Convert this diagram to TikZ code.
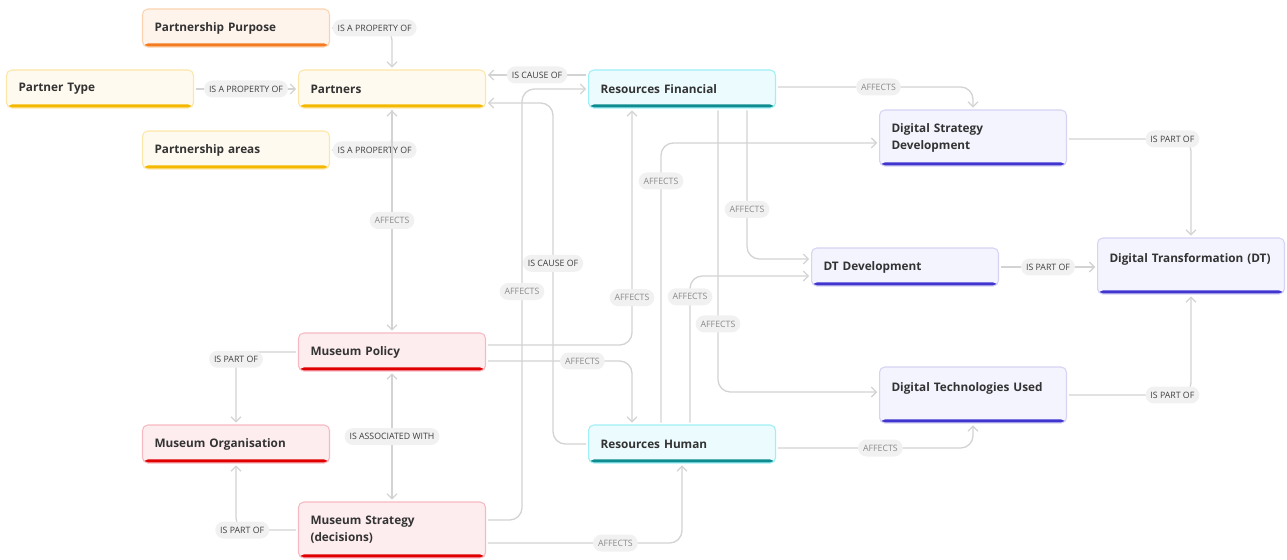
\documentclass[tikz,border=0pt]{standalone}
\usepackage{fontspec}
\setmainfont{Open Sans}
\usepackage{tikz}
\usetikzlibrary{arrows.meta,calc}

\definecolor{coralfill}{HTML}{FFF4EC}
\definecolor{coralline}{HTML}{FBD3B0}
\definecolor{coralbar}{HTML}{F47B20}
\definecolor{amberfill}{HTML}{FFFAEF}
\definecolor{amberline}{HTML}{FCE6A8}
\definecolor{amberbar}{HTML}{F5B800}
\definecolor{aquafill}{HTML}{ECFCFE}
\definecolor{aqualine}{HTML}{9EEFF6}
\definecolor{aquabar}{HTML}{0F8C8F}
\definecolor{lavfill}{HTML}{F3F4FD}
\definecolor{lavline}{HTML}{D6D3F3}
\definecolor{lavbar}{HTML}{4035CF}
\definecolor{rosefill}{HTML}{FDEDEF}
\definecolor{roseline}{HTML}{F6B9C2}
\definecolor{rosebar}{HTML}{E00000}
\definecolor{wirecol}{HTML}{D3D3D3}
\definecolor{pillfill}{HTML}{F1F1F1}
\definecolor{reltext}{HTML}{3F3F3F}
\definecolor{afftext}{HTML}{8A8A8A}
\definecolor{boxtext}{HTML}{333333}

\tikzset{
  box/.style={
    rectangle,
    rounded corners=3pt,
    draw=#1line,
    fill=#1fill,
    line width=0.6pt,
    text=boxtext,
    align=left,
    text width=3.26cm,
    inner xsep=0.24cm,
    inner ysep=0pt,
    minimum height=0.76cm,
    font=\bfseries\fontsize{6.7}{9.6}\selectfont,
    path picture={\fill[#1bar] ([yshift=0.07cm]path picture bounding box.south west) rectangle (path picture bounding box.south east);}
  },
  tall/.style={minimum height=1.12cm},
  pill/.style={
    rectangle,
    rounded corners=0.17cm,
    fill=pillfill,
    inner xsep=0.1cm,
    inner ysep=0pt,
    minimum height=0.34cm,
    font=\fontsize{5}{5.5}\selectfont
  },
  rel/.style={pill, text=reltext},
  aff/.style={pill, text=afftext},
  >={Straight Barb[length=1mm,width=2mm]},
  wire/.style={->, draw=wirecol, line width=0.75pt, rounded corners=7pt, shorten >=1pt, shorten <=1pt}
}

\begin{document}
\begin{tikzpicture}[x=0.02cm, y=-0.02cm]
  \useasboundingbox (0,0) rectangle (1287,560);

  % partners
  \node[box=coral] (purpose) at (236,28) {Partnership Purpose};
  \node[box=amber] (ptype) at (100,89) {Partner Type};
  \node[box=amber] (partners) at (392,89) {Partners};
  \node[box=amber] (areas) at (236,150) {Partnership areas};

  % resources
  \node[box=aqua] (fin) at (682,89) {Resources Financial};
  \node[box=aqua] (human) at (682,444) {Resources Human};

  % digital side
  \node[box=lav, tall] (dsd) at (973,138) {Digital Strategy\\Development};
  \node[box=lav] (dtd) at (905,267) {DT Development};
  \node[box=lav, tall] (dt) at (1191,266) {Digital Transformation (DT)\\\mbox{}};
  \node[box=lav, tall] (dtu) at (973,395) {Digital Technologies Used\\\mbox{}};

  % museum
  \node[box=rose] (mp) at (392,352) {Museum Policy};
  \node[box=rose] (mo) at (236,444) {Museum Organisation};
  \node[box=rose, tall] (ms) at (392,530) {Museum Strategy\\(decisions)};

  \draw[wire] (purpose.east) -| node[rel, pos=0.36] {IS A PROPERTY OF} (partners.north);
  \draw[wire] (ptype) -- node[rel] {IS A PROPERTY OF} (partners);
  \draw[wire] (areas.east) -| node[rel, pos=0.36] {IS A PROPERTY OF} (partners.south);
  \draw[wire] (partners.south) -- node[aff] {AFFECTS} (mp.north);
  \draw[wire] ($(fin.west)+(0,-14)$) -- node[rel] {IS CAUSE OF} ($(partners.east)+(0,-14)$);
  \draw[wire] (human.west) -- (553,444) -- node[rel, pos=0.53] {IS CAUSE OF} (553,103) -- ($(partners.east)+(0,14)$);

  \draw[wire] ($(ms.east)+(0,-10)$) -- (522,520) -- node[aff, pos=0.53] {AFFECTS} (522,89) -- (fin.west);
  \draw[wire] ($(mp.east)+(0,-7)$) -- (632,345) -- node[aff, pos=0.2] {AFFECTS} ($(fin.south)+(-50,0)$);
  \draw[wire] ($(mp.east)+(0,9)$) -- node[aff, pos=0.66] {AFFECTS} (632,361) -- ($(human.north)+(-50,0)$);
  \draw[wire, <->] (mp.south) -- node[rel] {IS ASSOCIATED WITH} (ms.north);
  \draw[wire] (mp.west) -| node[rel, pos=0.55] {IS PART OF} (mo.north);
  \draw[wire] (ms.west) -| node[rel, pos=0.45] {IS PART OF} (mo.south);
  \draw[wire] ($(ms.east)+(0,13)$) -- node[aff, pos=0.66] {AFFECTS} (682,543) -- (human.south);

  \draw[wire] ($(human.north)+(-21,0)$) -- node[aff, pos=0.865] {AFFECTS} (661,143) -- ($(dsd.west)+(0,5)$);
  \draw[wire] ($(human.north)+(8,0)$) -- node[aff, pos=0.86] {AFFECTS} (690,276) -- ($(dtd.west)+(0,9)$);
  \draw[wire] ($(fin.south)+(65,0)$) -- node[aff, pos=0.67] {AFFECTS} (747,259) -- ($(dtd.west)+(0,-8)$);
  \draw[wire] ($(fin.south)+(36,0)$) -- node[aff, pos=0.76] {AFFECTS} (718,392) -- ($(dtu.west)+(0,-3)$);
  \draw[wire] ($(fin.east)+(0,-2)$) -- node[aff, pos=0.52] {AFFECTS} (973,87) -- (dsd.north);
  \draw[wire] ($(human.east)+(0,4)$) -- node[aff, pos=0.53] {AFFECTS} (973,448) -- (dtu.south);

  \draw[wire] ($(dsd.east)+(0,1)$) -- node[rel, pos=0.85] {IS PART OF} (1191,139) -- (dt.north);
  \draw[wire] (dtd) -- node[rel] {IS PART OF} (dtd -| dt.west);
  \draw[wire] (dtu.east) -- node[rel, pos=0.85] {IS PART OF} (1191,395) -- (dt.south);
\end{tikzpicture}
\end{document}
